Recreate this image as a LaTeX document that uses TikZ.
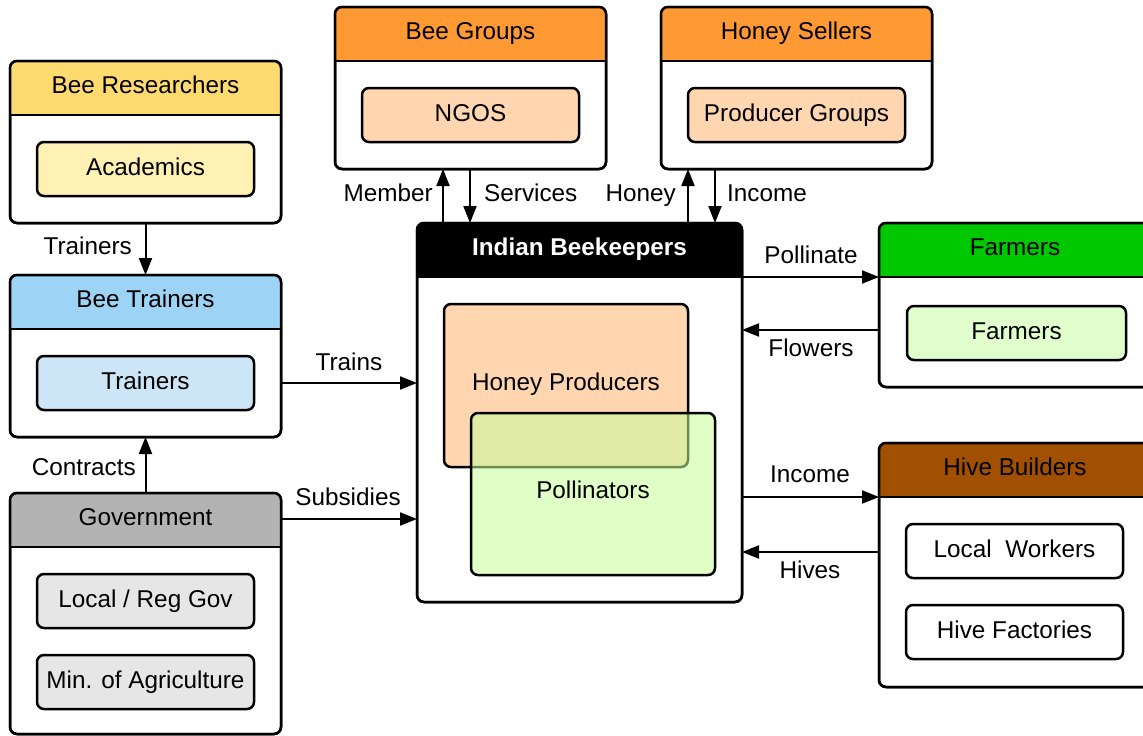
\documentclass[tikz,border=0pt]{standalone}
\usepackage{fontspec}
\setmainfont{Liberation Sans}
\usetikzlibrary{arrows.meta}
\definecolor{hyellow}{HTML}{FFDA6E}
\definecolor{hblue}{HTML}{9DD3F5}
\definecolor{horange}{HTML}{FF9933}
\definecolor{hgreen}{HTML}{00C800}
\definecolor{hbrown}{HTML}{A05000}
\definecolor{hgray}{HTML}{B3B3B3}
\definecolor{iyellow}{HTML}{FFF0B3}
\definecolor{iblue}{HTML}{CCE6F7}
\definecolor{iorange}{HTML}{FFD6B0}
\definecolor{igreen}{HTML}{E0FFCC}
\definecolor{pgreen}{HTML}{C8FF99}
\definecolor{igray}{HTML}{E6E6E6}
\tikzset{
  txt/.style={font=\fontsize{24.3}{28}\selectfont, text height=17pt, text depth=4pt, inner sep=0pt},
  outerbox/.style={draw=black, line width=2.5pt, rounded corners=7pt, fill=white, anchor=north west, inner sep=0pt, outer sep=0pt},
  innerbox/.style={txt, draw=black, line width=2.5pt, rounded corners=7pt, anchor=north west, outer sep=0pt, minimum width=217pt, minimum height=54pt},
  lbl/.style={txt},
  conn/.style={line width=2pt, -{Triangle[length=17pt,width=13pt]}},
}
% name, x, y, w, h, header colour, title style, title
\newcommand\mkgroup[8]{%
  \node[outerbox, minimum width=#4pt, minimum height=#5pt] (#1) at (#2,#3) {};
  \begin{scope}
    \clip[rounded corners=7pt] (#1.north west) rectangle (#1.south east);
    \fill[#6] (#1.north west) rectangle ([yshift=-54pt]#1.north east);
  \end{scope}
  \draw[line width=2.5pt] ([yshift=-54pt]#1.north west) -- ([yshift=-54pt]#1.north east);
  \draw[line width=2.5pt, rounded corners=7pt] (#1.north west) rectangle (#1.south east);
  \node[txt, #7] (#1-title) at ([yshift=-26pt]#1.north) {#8};
}
\begin{document}
\begin{tikzpicture}[x=1pt, y=-1pt]
\useasboundingbox (0,0) rectangle (1143,736);
\clip (0,0) rectangle (1143,736);

\mkgroup{br}{10}{61}{271}{162}{hyellow}{}{Bee Researchers}
\mkgroup{bt}{10}{275}{271}{162}{hblue}{}{Bee Trainers}
\mkgroup{gov}{10}{493}{271}{241}{hgray}{}{Government}
\mkgroup{bg}{335}{7}{271}{162}{horange}{}{Bee Groups}
\mkgroup{hs}{661}{7}{271}{162}{horange}{}{Honey Sellers}
\mkgroup{ib}{417}{223}{325}{379}{black}{text=white, font=\fontsize{24.3}{28}\selectfont\bfseries}{Indian Beekeepers}
\mkgroup{fa}{879}{223}{272}{164}{hgreen}{}{Farmers}
\mkgroup{hb}{879}{443}{272}{244}{hbrown}{}{Hive Builders}

\node[innerbox, fill=iyellow] (acad) at (37,142) {Academics};
\node[innerbox, fill=iblue] (trn) at (37,356) {Trainers};
\node[innerbox, fill=igray] (lrg) at (37,574) {Local / Reg Gov};
\node[innerbox, fill=igray] (moa) at (37,655) {Min. of Agriculture};
\node[innerbox, fill=iorange] (ngo) at (362,88) {NGOS};
\node[innerbox, fill=iorange] (pg) at (688,88) {Producer Groups};
\node[innerbox, fill=igreen, minimum width=219pt] (far) at (907,306) {Farmers};
\node[innerbox, fill=white] (lw) at (906,524) {Local\ \ Workers};
\node[innerbox, fill=white] (hf) at (906,605) {Hive Factories};

\node[innerbox, fill=iorange, minimum width=244pt, minimum height=163pt] (hp) at (444,304) {};
\node[lbl] (hp-text) at (566,384) {Honey Producers};
\node[innerbox, fill=pgreen, fill opacity=0.55, draw opacity=1, minimum width=244pt, minimum height=162pt] (pol) at (471,413) {};
\node[lbl] (pol-text) at (593,492) {Pollinators};

% connectors
\draw[conn] (br.south) -- (bt.north);
\draw[conn] (gov.north) -- (bt.south);
\draw[conn] (trn.east -| bt.east) -- (trn.east -| ib.west);
\draw[conn] (gov-title -| gov.east) -- (gov-title -| ib.west);
\draw[conn] ([xshift=26pt]ib.north west) -- ([xshift=26pt]ib.north west |- bg.south);
\draw[conn] ([xshift=53pt]ib.north west |- bg.south) -- ([xshift=53pt]ib.north west);
\draw[conn] ([xshift=-54pt]ib.north east) -- ([xshift=-54pt]ib.north east |- hs.south);
\draw[conn] ([xshift=-27pt]ib.north east |- hs.south) -- ([xshift=-27pt]ib.north east);
\draw[conn] ([yshift=-54pt]ib.north east) -- ([yshift=-54pt]ib.north east -| fa.west);
\draw[conn] ([yshift=-107pt]fa.north west) -- ([yshift=-107pt]fa.north west -| ib.east);
\draw[conn] ([yshift=-54pt]hb.north west -| ib.east) -- ([yshift=-54pt]hb.north west);
\draw[conn] ([yshift=-109pt]hb.north west) -- ([yshift=-109pt]hb.north west -| ib.east);

% connector labels
\node[lbl, anchor=east] (l-trainers) at (132,248) {Trainers};
\node[lbl, anchor=east] (l-contracts) at (136,469) {Contracts};
\node[lbl] (l-trains) at (349,364) {Trains};
\node[lbl] (l-subsidies) at (348,499) {Subsidies};
\node[lbl, anchor=east] (l-member) at (433,195) {Member};
\node[lbl, anchor=west] (l-services) at (484,195) {Services};
\node[lbl, anchor=east] (l-honey) at (676,195) {Honey};
\node[lbl, anchor=west] (l-income1) at (727,195) {Income};
\node[lbl] (l-pollinate) at (811,257) {Pollinate};
\node[lbl] (l-flowers) at (811,350) {Flowers};
\node[lbl] (l-income2) at (810,476) {Income};
\node[lbl] (l-hives) at (810,572) {Hives};
\end{tikzpicture}
\end{document}
